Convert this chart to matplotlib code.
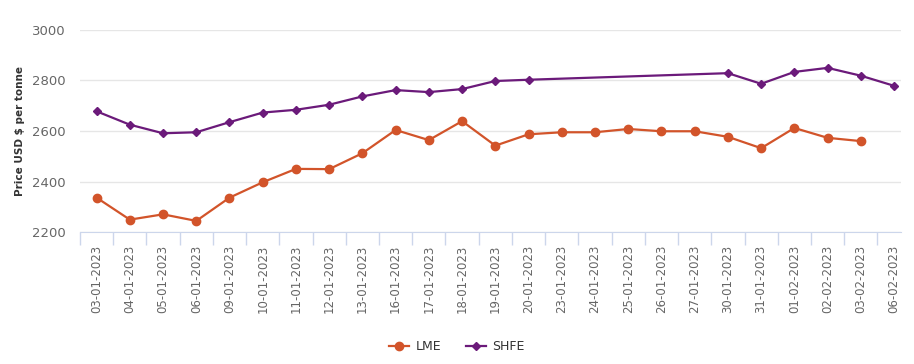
import matplotlib
matplotlib.use("Agg")
import matplotlib.pyplot as plt
from matplotlib.lines import Line2D
import numpy as np

dates = ["03-01-2023", "04-01-2023", "05-01-2023", "06-01-2023", "09-01-2023",
         "10-01-2023", "11-01-2023", "12-01-2023", "13-01-2023", "16-01-2023",
         "17-01-2023", "18-01-2023", "19-01-2023", "20-01-2023", "23-01-2023",
         "24-01-2023", "25-01-2023", "26-01-2023", "27-01-2023", "30-01-2023",
         "31-01-2023", "01-02-2023", "02-02-2023", "03-02-2023", "06-02-2023"]

lme = [2336, 2249, 2270, 2244, 2336, 2397, 2450, 2449, 2512, 2604,
       2564, 2639, 2542, 2587, 2595, 2595, 2608, 2599, 2599, 2577,
       2532, 2612, 2573, 2560, np.nan]

shfe = [2678, 2625, 2591, 2595, 2635, 2673, 2684, 2704, 2737, 2762,
        2754, 2766, 2798, 2803, np.nan, np.nan, np.nan, np.nan, np.nan, 2829,
        2787, 2834, 2850, 2819, 2779]

lme_color = '#d2542a'
shfe_color = '#6b1a7a'

fig = plt.figure(figsize=(9.14, 3.64), dpi=100)
ax = fig.add_axes([0.0875, 0.3626, 0.8983, 0.555])

x = np.arange(len(dates))
lme = np.array(lme, dtype=float)
shfe = np.array(shfe, dtype=float)

m = ~np.isnan(lme)
ax.plot(x[m], lme[m], color=lme_color, lw=1.6, marker='o', ms=6, zorder=3)
m = ~np.isnan(shfe)
ax.plot(x[m], shfe[m], color=shfe_color, lw=1.6, marker='D', ms=4.5, zorder=3)

ax.set_ylim(2200, 3000)
ax.set_yticks([2200, 2400, 2600, 2800, 3000])
ax.set_xlim(-0.5, 24.21)
ax.set_xticks(x)
ax.set_xticklabels(dates, rotation=90, fontsize=8.5, color='#666666')
ax.set_xticks(np.arange(-0.5, 24, 1), minor=True)
ax.tick_params(axis='x', which='major', length=0, pad=9)
ax.tick_params(axis='x', which='minor', length=9, color='#ccd6eb', width=1)
ax.tick_params(axis='y', length=0, labelsize=9.5, labelcolor='#666666', pad=10)

ax.grid(axis='y', color='#e6e6e6', lw=1)
ax.set_axisbelow(True)
for s in ['top', 'right', 'left']:
    ax.spines[s].set_visible(False)
ax.spines['bottom'].set_color('#ccd6eb')

ax.set_ylabel("Price USD $ per tonne", fontsize=7.5, fontweight='bold',
              color='#333333', labelpad=5)

handles = [Line2D([], [], color=lme_color, lw=1.6, marker='o', ms=6),
           Line2D([], [], color=shfe_color, lw=1.6, marker='D', ms=4.5)]
fig.legend(handles, ["LME", "SHFE"], loc='center', bbox_to_anchor=(0.5, 0.047),
           ncol=2, frameon=False, fontsize=9, handlelength=1.6,
           columnspacing=2.0, handletextpad=0.5, labelcolor='#333333')

fig.savefig("out.png", dpi=100, facecolor='white')
plt.close(fig)
